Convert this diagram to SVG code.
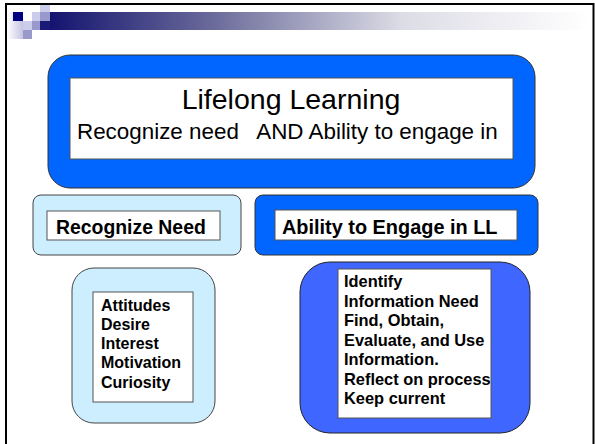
<svg xmlns="http://www.w3.org/2000/svg" width="595" height="444" viewBox="0 0 595 444">
<defs>
<linearGradient id="bar" x1="0" y1="0" x2="1" y2="0">
<stop offset="0" stop-color="#141470"/>
<stop offset="0.3" stop-color="#6a6a9a"/>
<stop offset="0.65" stop-color="#dcdce6"/>
<stop offset="1" stop-color="#ffffff"/>
</linearGradient>
<linearGradient id="side" x1="0" y1="0" x2="1" y2="0">
<stop offset="0" stop-color="#ffffff"/>
<stop offset="1" stop-color="#c4c4e2"/>
</linearGradient>
<style>
.blue{fill:#0066ff;stroke:#333;stroke-width:1}
.blue2{fill:#3f66ff;stroke:#222;stroke-width:1}
.light{fill:#cceeff;stroke:#444;stroke-width:1}
.inner{fill:#fff;stroke:#555;stroke-width:1}
.t{font-family:"Liberation Sans",Arial,sans-serif;fill:#000}
.b{font-family:"Liberation Sans",Arial,sans-serif;font-weight:bold;fill:#000}
</style>
</defs>
<rect x="0" y="0" width="595" height="444" fill="#fff"/>
<g id="header">
<rect x="7" y="12" width="16" height="27" fill="url(#side)"/>
<rect x="50" y="12" width="540" height="18" fill="url(#bar)"/>
<rect x="13" y="12" width="10" height="9" fill="#000080"/>
<rect x="32" y="12" width="8" height="9" fill="#ccccec"/>
<rect x="40" y="5" width="10" height="7" fill="#ccccec"/>
<rect x="40" y="12" width="10" height="9" fill="#9999cc"/>
<rect x="23" y="21" width="9" height="9" fill="#ccccec"/>
<rect x="32" y="21" width="8" height="9" fill="#9999cc"/>
<rect x="40" y="21" width="10" height="9" fill="#1a1a78"/>
<rect x="23" y="30" width="9" height="9" fill="#9999cc"/>
</g>
<rect x="6" y="4" width="587.5" height="450" fill="none" stroke="#000" stroke-width="2"/>
<g id="lifelong">
<rect class="blue" x="48" y="55" width="487" height="133" rx="22"/>
<rect class="inner" x="70" y="78" width="443" height="81"/>
<text class="t" x="291" y="109" font-size="28.5" text-anchor="middle">Lifelong Learning</text>
<text class="t" x="77" y="139" font-size="22.4" xml:space="preserve">Recognize need   AND Ability to engage in</text>
</g>
<g id="recognize">
<rect class="light" x="33" y="195" width="208" height="60" rx="8"/>
<rect class="inner" x="47" y="211" width="173" height="29"/>
<text class="b" x="56" y="234" font-size="19.4">Recognize Need</text>
</g>
<g id="ability">
<rect class="blue" x="255" y="195" width="283" height="60" rx="8"/>
<rect class="inner" x="275" y="210" width="242" height="30"/>
<text class="b" x="282" y="234" font-size="19.9">Ability to Engage in LL</text>
</g>
<g id="attitudes">
<rect class="light" x="72" y="268" width="143" height="155" rx="22"/>
<rect class="inner" x="93" y="292" width="100" height="110"/>
<text class="b" x="101" font-size="16"><tspan x="101" y="311">Attitudes</tspan><tspan x="101" y="330">Desire</tspan><tspan x="101" y="349">Interest</tspan><tspan x="101" y="368">Motivation</tspan><tspan x="101" y="388">Curiosity</tspan></text>
</g>
<g id="skills">
<rect class="blue2" x="300" y="262" width="230" height="171" rx="30"/>
<rect class="inner" x="338" y="269" width="153" height="149"/>
<text class="b" font-size="16.4"><tspan x="344" y="287">Identify</tspan><tspan x="344" y="307">Information Need</tspan><tspan x="344" y="326">Find, Obtain,</tspan><tspan x="344" y="346">Evaluate, and Use</tspan><tspan x="344" y="365">Information.</tspan><tspan x="344" y="385">Reflect on process</tspan><tspan x="344" y="404">Keep current</tspan></text>
</g>
<g id="connectors"></g>
</svg>
